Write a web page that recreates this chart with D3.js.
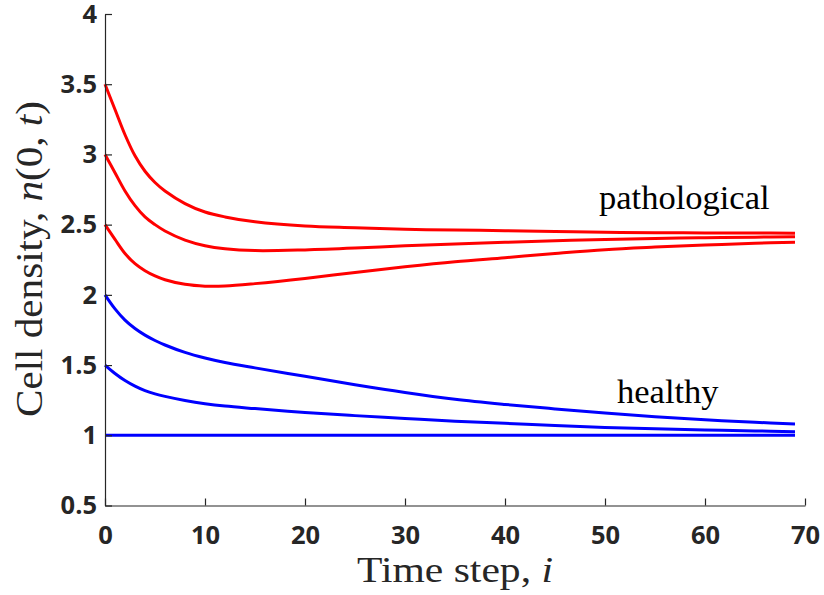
<!DOCTYPE html>
<html>
<head>
<meta charset="utf-8">
<script src="https://cdn.jsdelivr.net/npm/d3@7"></script>
<style>
  html, body { margin: 0; padding: 0; background: #fff; }
  svg { display: block; }
</style>
</head>
<body>
<svg id="chart" width="824" height="595"></svg>
<script>
// Time steps at which each series is sampled
const steps = [0, 1, 2, 3, 4, 5, 6, 8, 10, 12, 15, 20, 25, 30, 35, 40, 45, 50, 55, 60, 65, 69];

// Pathological trajectories (red)
const pathHigh = [3.5, 3.32, 3.14, 2.99, 2.88, 2.80, 2.74, 2.65, 2.59, 2.555, 2.52, 2.49, 2.478, 2.467, 2.462, 2.457, 2.452, 2.446, 2.443, 2.441, 2.44, 2.439];
const pathMid  = [3.0, 2.87, 2.74, 2.635, 2.555, 2.5, 2.455, 2.39, 2.35, 2.328, 2.315, 2.32, 2.333, 2.35, 2.363, 2.374, 2.385, 2.395, 2.402, 2.407, 2.411, 2.414];
const pathLow  = [2.5, 2.395, 2.295, 2.222, 2.172, 2.135, 2.108, 2.075, 2.062, 2.063, 2.08, 2.117, 2.16, 2.2, 2.236, 2.265, 2.295, 2.322, 2.34, 2.355, 2.367, 2.375];

// Healthy trajectories (blue)
const healthHigh = [2.0, 1.9, 1.82, 1.76, 1.713, 1.675, 1.643, 1.59, 1.55, 1.518, 1.48, 1.42, 1.36, 1.305, 1.257, 1.22, 1.188, 1.158, 1.132, 1.11, 1.093, 1.08];
const healthMid  = [1.5, 1.44, 1.39, 1.35, 1.318, 1.295, 1.277, 1.248, 1.225, 1.208, 1.19, 1.162, 1.14, 1.12, 1.1, 1.085, 1.069, 1.056, 1.046, 1.038, 1.031, 1.026];
const healthLow  = [1, 1, 1, 1, 1, 1, 1, 1, 1, 1, 1, 1, 1, 1, 1, 1, 1, 1, 1, 1, 1, 1];

// Axis ticks
const xTicks = [0, 10, 20, 30, 40, 50, 60, 70];
const yTicks = [0.5, 1, 1.5, 2, 2.5, 3, 3.5, 4];
const yTickLabels = ["0.5", "1", "1.5", "2", "2.5", "3", "3.5", "4"];

// Group labels, anchored in data coordinates
const groupLabels = ["pathological", "healthy"];
const groupLabelX = [49.4, 51.2];
const groupLabelY = [2.612, 1.232];

const series = [
  { values: pathHigh, color: "#ff0000" },
  { values: pathMid, color: "#ff0000" },
  { values: pathLow, color: "#ff0000" },
  { values: healthHigh, color: "#0000ff" },
  { values: healthMid, color: "#0000ff" },
  { values: healthLow, color: "#0000ff" }
];

const svg = d3.select("#chart");
const plotLeft = 105, plotRight = 805, plotTop = 14, plotBottom = 505.5;

const x = d3.scaleLinear().domain([0, 70]).range([plotLeft, plotRight]);
const y = d3.scaleLinear().domain([0.5, 4]).range([plotBottom, plotTop]);

const line = d3.line()
  .x((d, i) => x(steps[i]))
  .y(d => y(d))
  .curve(d3.curveCatmullRom.alpha(0.5));

svg.append("g")
  .selectAll("path")
  .data(series)
  .join("path")
  .attr("d", s => line(s.values))
  .attr("fill", "none")
  .attr("stroke", s => s.color)
  .attr("stroke-width", 3)
  .attr("stroke-linejoin", "round");

const tickFont = "'Open Sans', sans-serif";
const axisColor = "#262626";

const xAxis = svg.append("g")
  .attr("transform", `translate(0,${plotBottom})`)
  .call(d3.axisBottom(x).tickValues(xTicks).tickFormat(d3.format("d"))
    .tickSizeInner(-7).tickSizeOuter(0).tickPadding(20));

const yAxis = svg.append("g")
  .attr("transform", `translate(${plotLeft},0)`)
  .call(d3.axisLeft(y).tickValues(yTicks).tickFormat((d, i) => yTickLabels[i])
    .tickSizeInner(-7).tickSizeOuter(0).tickPadding(8));

[xAxis, yAxis].forEach(g => {
  g.select(".domain").attr("stroke", axisColor).attr("stroke-width", 1.2);
  g.selectAll(".tick line").attr("stroke", axisColor).attr("stroke-width", 1.2);
  g.selectAll(".tick text")
    .attr("fill", axisColor)
    .style("font-family", tickFont)
    .style("font-weight", "700")
    .style("font-size", "25.5px");
});

// Axis titles
const titleFont = "'Liberation Serif', 'Times New Roman', serif";

const xTitle = svg.append("text")
  .attr("x", 455)
  .attr("y", 582)
  .attr("text-anchor", "middle")
  .attr("fill", axisColor)
  .attr("textLength", 196)
  .attr("lengthAdjust", "spacingAndGlyphs")
  .style("font-family", titleFont)
  .style("font-size", "36px");
xTitle.append("tspan").text("Time step, ");
xTitle.append("tspan").style("font-style", "italic").text("i");

const yTitle = svg.append("text")
  .attr("transform", "translate(42,259) rotate(-90)")
  .attr("text-anchor", "middle")
  .attr("fill", axisColor)
  .attr("textLength", 316)
  .attr("lengthAdjust", "spacingAndGlyphs")
  .style("font-family", titleFont)
  .style("font-size", "37px");
yTitle.append("tspan").text("Cell density, ");
yTitle.append("tspan").style("font-style", "italic").text("n");
yTitle.append("tspan").text("(0, ");
yTitle.append("tspan").style("font-style", "italic").text("t");
yTitle.append("tspan").text(")");

// Group annotations
svg.append("g")
  .selectAll("text")
  .data(groupLabels)
  .join("text")
  .attr("x", (d, i) => x(groupLabelX[i]))
  .attr("y", (d, i) => y(groupLabelY[i]))
  .attr("fill", "#000")
  .style("font-family", titleFont)
  .style("font-size", "34.5px")
  .text(d => d);
</script>
</body>
</html>
